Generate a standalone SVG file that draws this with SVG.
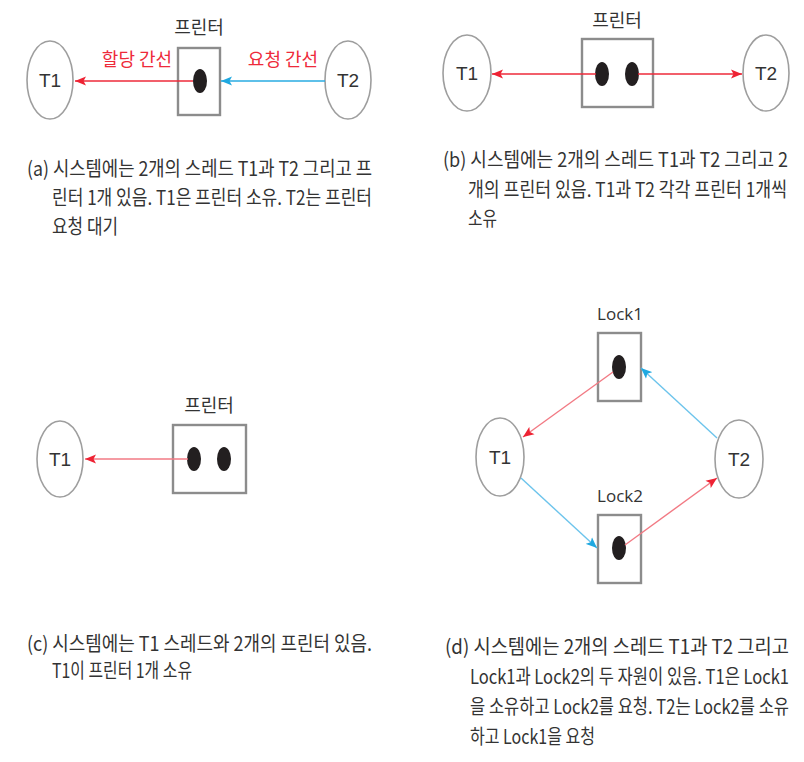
<svg xmlns="http://www.w3.org/2000/svg" width="804" height="762" viewBox="0 0 804 762">
<style>
.bg{fill:#ffffff}
.th{fill:#ffffff;stroke:#9e9e9e;stroke-width:1.6}
.res{fill:#ffffff;stroke:#8c8c8c;stroke-width:2.4}
.dot{fill:#231f20}
.lbl{font-family:"Noto Sans CJK KR","Liberation Sans",sans-serif;font-size:18px;fill:#333333;text-anchor:middle}
.tl{font-family:"Liberation Sans Narrow","Liberation Sans","Noto Sans CJK KR",sans-serif;font-size:19px;fill:#333333;text-anchor:middle}
.lk{font-family:"Open Sans","Liberation Sans",sans-serif;font-size:17px;fill:#333333;text-anchor:middle}
.red{font-family:"Noto Sans CJK KR",sans-serif;font-size:18px;fill:#ee2a3a;text-anchor:middle}
.cap{font-family:"Noto Sans CJK KR","Liberation Sans",sans-serif;font-size:20px;fill:#333333}
.er{stroke:#ee2a3a;stroke-width:1.4;fill:none}
.er2{stroke:#f27a84;stroke-width:1.4;fill:none}
.eb{stroke:#29abe2;stroke-width:1.4;fill:none}
.eb2{stroke:#6cc4ec;stroke-width:1.4;fill:none}
</style>
<defs>
<marker id="ahR" markerUnits="userSpaceOnUse" markerWidth="12" markerHeight="10" refX="11" refY="5" orient="auto"><path d="M0,0.5 L11,5 L0,9.5 L2.5,5 z" fill="#ee2233"/></marker>
<marker id="ahB" markerUnits="userSpaceOnUse" markerWidth="12" markerHeight="10" refX="11" refY="5" orient="auto"><path d="M0,0.5 L11,5 L0,9.5 L2.5,5 z" fill="#1fa8e0"/></marker>
</defs>
<rect class="bg" x="0" y="0" width="804" height="762"/>

<!-- Panel (a) -->
<g id="a-T1"><ellipse class="th" cx="50" cy="80" rx="23" ry="39"/><text class="tl" x="50" y="87">T1</text></g>
<g id="a-T2"><ellipse class="th" cx="348" cy="80" rx="23" ry="39"/><text class="tl" x="348" y="87">T2</text></g>
<g id="a-printer"><rect class="res" x="178" y="48" width="42" height="67"/><ellipse class="dot" cx="200" cy="81" rx="7" ry="12"/><text class="lbl" x="199" y="34">프린터</text></g>
<text class="red" x="137" y="66">할당 간선</text>
<text class="red" x="283" y="66">요청 간선</text>

<!-- Panel (b) -->
<g id="b-T1"><ellipse class="th" cx="467" cy="73" rx="24" ry="38"/><text class="tl" x="467" y="80">T1</text></g>
<g id="b-T2"><ellipse class="th" cx="766" cy="73" rx="23" ry="38"/><text class="tl" x="766" y="80">T2</text></g>
<g id="b-printer"><rect class="res" x="582" y="39" width="71" height="68"/><ellipse class="dot" cx="602" cy="74" rx="7" ry="12"/><ellipse class="dot" cx="632" cy="74" rx="7" ry="12"/><text class="lbl" x="617" y="27">프린터</text></g>

<!-- Panel (c) -->
<g id="c-T1"><ellipse class="th" cx="60" cy="459" rx="23" ry="38"/><text class="tl" x="60" y="466">T1</text></g>
<g id="c-printer"><rect class="res" x="173" y="425" width="73" height="68"/><ellipse class="dot" cx="194" cy="459" rx="7" ry="12"/><ellipse class="dot" cx="224" cy="459" rx="7" ry="12"/><text class="lbl" x="209" y="412">프린터</text></g>

<!-- Panel (d) -->
<g id="d-T1"><ellipse class="th" cx="500" cy="457" rx="24" ry="39"/><text class="tl" x="500" y="464">T1</text></g>
<g id="d-T2"><ellipse class="th" cx="739" cy="459" rx="24" ry="39"/><text class="tl" x="739" y="466">T2</text></g>
<g id="d-lock1"><rect class="res" x="598" y="333" width="43" height="68"/><ellipse class="dot" cx="619" cy="367" rx="7" ry="12"/><text class="lk" x="620" y="320">Lock1</text></g>
<g id="d-lock2"><rect class="res" x="598" y="515" width="43" height="68"/><ellipse class="dot" cx="619" cy="548" rx="7" ry="12"/><text class="lk" x="620" y="502">Lock2</text></g>

<g id="connectors">
<line class="er" x1="193" y1="81" x2="75" y2="81" marker-end="url(#ahR)"/>
<line class="eb" x1="325" y1="81" x2="221" y2="81" marker-end="url(#ahB)"/>
<line class="er" x1="596" y1="74" x2="492" y2="74" marker-end="url(#ahR)"/>
<line class="er" x1="638" y1="74" x2="742" y2="74" marker-end="url(#ahR)"/>
<line class="er2" x1="188" y1="459" x2="85" y2="459" marker-end="url(#ahR)"/>
<line class="er2" x1="613" y1="372" x2="523" y2="437" marker-end="url(#ahR)"/>
<line class="eb2" x1="717" y1="438" x2="641" y2="368" marker-end="url(#ahB)"/>
<line class="eb2" x1="521" y1="478" x2="597" y2="548" marker-end="url(#ahB)"/>
<line class="er2" x1="625" y1="545" x2="717" y2="478" marker-end="url(#ahR)"/>
</g>

<!-- Captions (condensed horizontally) -->
<g id="caption-a">
<text class="cap" transform="translate(27,176) scale(0.87,1)" textLength="396.6" lengthAdjust="spacingAndGlyphs">(a) 시스템에는 2개의 스레드 T1과 T2 그리고 프</text>
<text class="cap" transform="translate(52,205) scale(0.87,1)" textLength="367.8" lengthAdjust="spacingAndGlyphs">린터 1개 있음. T1은 프린터 소유. T2는 프린터</text>
<text class="cap" transform="translate(52,234) scale(0.87,1)" textLength="75.9" lengthAdjust="spacingAndGlyphs">요청 대기</text>
</g>
<g id="caption-b">
<text class="cap" transform="translate(443,167) scale(0.87,1)" textLength="396.6" lengthAdjust="spacingAndGlyphs">(b) 시스템에는 2개의 스레드 T1과 T2 그리고 2</text>
<text class="cap" transform="translate(468,197) scale(0.87,1)" textLength="366.7" lengthAdjust="spacingAndGlyphs">개의 프린터 있음. T1과 T2 각각 프린터 1개씩</text>
<text class="cap" transform="translate(468,226) scale(0.87,1)" textLength="33.3" lengthAdjust="spacingAndGlyphs">소유</text>
</g>
<g id="caption-c">
<text class="cap" transform="translate(27,651) scale(0.87,1)" textLength="396.6" lengthAdjust="spacingAndGlyphs">(c) 시스템에는 T1 스레드와 2개의 프린터 있음.</text>
<text class="cap" transform="translate(52,678) scale(0.87,1)" textLength="160.9" lengthAdjust="spacingAndGlyphs">T1이 프린터 1개 소유</text>
</g>
<g id="caption-d">
<text class="cap" transform="translate(445,654) scale(0.87,1)" textLength="395.4" lengthAdjust="spacingAndGlyphs">(d) 시스템에는 2개의 스레드 T1과 T2 그리고</text>
<text class="cap" transform="translate(470,684) scale(0.78,1)" textLength="409" lengthAdjust="spacingAndGlyphs">Lock1과 Lock2의 두 자원이 있음. T1은 Lock1</text>
<text class="cap" transform="translate(470,714) scale(0.78,1)" textLength="409" lengthAdjust="spacingAndGlyphs">을 소유하고 Lock2를 요청. T2는 Lock2를 소유</text>
<text class="cap" transform="translate(470,744) scale(0.78,1)" textLength="160.3" lengthAdjust="spacingAndGlyphs">하고 Lock1을 요청</text>
</g>
</svg>
